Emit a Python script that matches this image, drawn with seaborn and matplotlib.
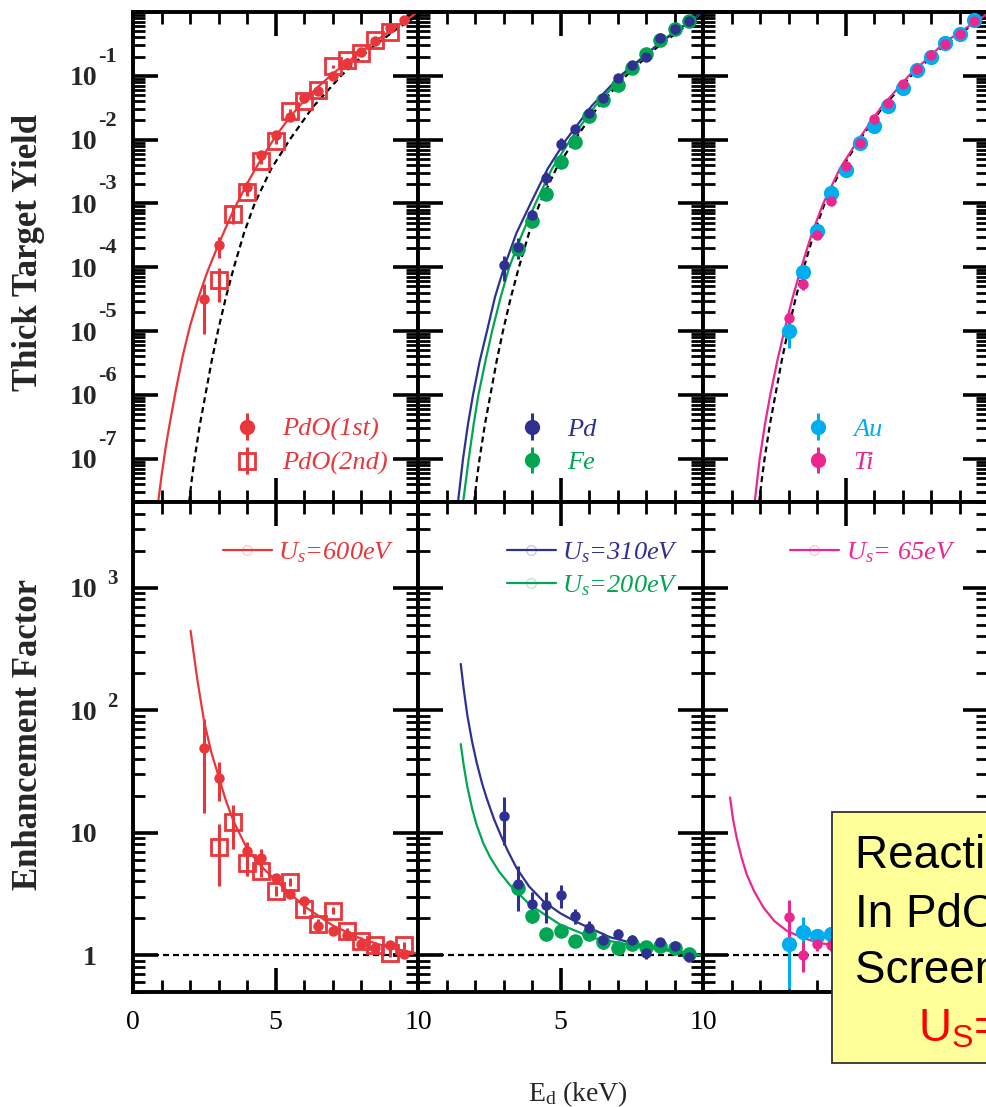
import numpy as np
import matplotlib
matplotlib.use("Agg")
import matplotlib.pyplot as plt
import matplotlib.transforms as mtransforms
import seaborn as sns
from matplotlib.ticker import LogLocator, MultipleLocator, FixedLocator, NullFormatter
from matplotlib.lines import Line2D
from matplotlib.patches import Rectangle
from matplotlib.legend_handler import HandlerErrorbar
from matplotlib.container import ErrorbarContainer
from matplotlib.font_manager import FontProperties

# ---------------- data ----------------
# PdO (1st run)  - filled circles
E_pdo1 = [2.5, 3.0, 4.0, 4.5, 5.0, 5.5, 6.0, 6.5, 7.0, 7.5, 8.0, 8.5, 9.0, 9.5]
Y_pdo1 = [3.2e-5, 2.2e-4, 1.8e-3, 5.8e-3, 1.2e-2, 2.3e-2, 4.5e-2, 5.8e-2, 0.10, 0.16, 0.24, 0.35, 0.56, 0.74]
Yerr_pdo1 = [2.3e-5, 8.0e-5, 3.0e-4, 6.0e-4, 1.0e-3, 1.5e-3, 2.5e-3, 3.0e-3, 4.0e-3, 6.0e-3, 8.0e-3, 1.0e-2, 1.5e-2, 2.0e-2]
F_pdo1 = [49.5, 27.9, 7.1, 6.15, 4.3, 3.18, 2.77, 1.73, 1.58, 1.47, 1.24, 1.14, 1.21, 1.02]
Ferr_pdo1 = [35.0, 9.7, 1.3, 1.2, 0.3, 0.2, 0.15, 0.12, 0.1, 0.1, 0.08, 0.07, 0.08, 0.06]

# PdO (2nd run) - open squares
E_pdo2_y = [3.0, 3.5, 4.0, 4.5, 5.0, 5.5, 6.0, 6.5, 7.0, 7.5, 8.0, 8.5, 9.0]
Y_pdo2 = [6.3e-5, 6.9e-4, 1.5e-3, 4.7e-3, 9.4e-3, 2.8e-2, 4.0e-2, 6.0e-2, 0.14, 0.18, 0.23, 0.37, 0.49]
Yerr_pdo2 = [3.4e-5, 2.2e-4, 2.0e-4, 5.0e-4, 8.0e-4, 2.0e-3, 3.0e-3, 4.0e-3, 8.0e-3, 1.0e-2, 1.0e-2, 1.5e-2, 2.0e-2]
E_pdo2_f = [3.0, 3.5, 4.0, 4.5, 5.0, 5.5, 6.0, 6.5, 7.0, 7.5, 8.0, 8.5, 9.0, 9.5]
F_pdo2 = [7.66, 12.1, 5.6, 4.88, 3.35, 3.99, 2.37, 1.81, 2.3, 1.56, 1.31, 1.21, 1.05, 1.21]
Ferr_pdo2 = [4.0, 4.8, 1.2, 0.5, 0.3, 0.3, 0.2, 0.15, 0.15, 0.1, 0.1, 0.08, 0.08, 0.08]

# Pd
E_pd = [3.0, 3.5, 4.0, 4.5, 5.0, 5.5, 6.0, 6.5, 7.0, 7.5, 8.0, 8.5, 9.0, 9.5]
Y_pd = [1.07e-4, 2.1e-4, 6.6e-4, 2.5e-3, 8.7e-3, 1.46e-2, 2.66e-2, 4.47e-2, 9.2e-2, 0.149, 0.20, 0.385, 0.55, 0.71]
Yerr_pd = [4.5e-5, 7.7e-5, 1.2e-4, 5.7e-4, 1.8e-3, 1.5e-3, 2.0e-3, 3.0e-3, 5.0e-3, 8.0e-3, 1.0e-2, 1.5e-2, 2.0e-2, 2.0e-2]
F_pd = [13.7, 3.84, 2.6, 2.56, 3.1, 2.09, 1.66, 1.32, 1.5, 1.32, 1.05, 1.27, 1.19, 0.97]
Ferr_pd = [5.8, 1.55, 0.65, 0.72, 0.66, 0.3, 0.25, 0.2, 0.12, 0.15, 0.12, 0.12, 0.08, 0.06]

# Fe
E_fe = [3.5, 4.0, 4.5, 5.0, 5.5, 6.0, 6.5, 7.0, 7.5, 8.0, 8.5, 9.0, 9.5]
Y_fe = [1.9e-4, 5.4e-4, 1.43e-3, 4.5e-3, 9.3e-3, 2.34e-2, 4.25e-2, 7.1e-2, 0.135, 0.218, 0.36, 0.54, 0.73]
Yerr_fe = [2e-5, 5e-5, 1.2e-4, 3e-4, 6e-4, 1.5e-3, 2.5e-3, 4e-3, 7e-3, 1e-2, 1.5e-2, 2e-2, 2.5e-2]
F_fe = [3.56, 2.09, 1.5, 1.58, 1.31, 1.5, 1.27, 1.14, 1.23, 1.16, 1.19, 1.14, 1.03]
Ferr_fe = [0.3, 0.25, 0.15, 0.12, 0.1, 0.1, 0.08, 0.06, 0.06, 0.05, 0.05, 0.05, 0.05]

# Au
E_au = [3.0, 3.5, 4.0, 4.5, 5.0, 5.5, 6.0, 6.5, 7.0, 7.5, 8.0, 8.5, 9.0, 9.5]
Y_au = [1.0e-5, 8.3e-5, 3.7e-4, 1.48e-3, 3.4e-3, 9.0e-3, 1.65e-2, 3.4e-2, 6.4e-2, 0.123, 0.195, 0.325, 0.46, 0.75]
Yerr_au = [4.5e-6, 1.2e-5, 3e-5, 1e-4, 2e-4, 5e-4, 8e-4, 1.5e-3, 3e-3, 5e-3, 8e-3, 1e-2, 1.5e-2, 2e-2]
E_au_f = [3.0, 3.5, 4.0, 4.5]
F_au = [1.24, 1.53, 1.44, 1.5]
Ferr_au = [0.71, 0.5, 0.2, 0.2]

# Ti
E_ti = [3.0, 3.5, 4.0, 4.5, 5.0, 5.5, 6.0, 6.5, 7.0, 7.5, 8.0, 8.5, 9.0, 9.5]
Y_ti = [1.58e-5, 5.4e-5, 3.2e-4, 1.1e-3, 3.9e-3, 9.0e-3, 2.1e-2, 3.7e-2, 7.4e-2, 0.127, 0.214, 0.32, 0.46, 0.71]
Yerr_ti = [4e-6, 1e-5, 3e-5, 8e-5, 2e-4, 5e-4, 1e-3, 1.5e-3, 3e-3, 5e-3, 8e-3, 1e-2, 1.5e-2, 2e-2]
E_ti_f = [3.0, 3.5, 4.0, 4.5]
F_ti = [2.03, 1.0, 1.24, 1.21]
Ferr_ti = [0.77, 0.27, 0.15, 0.12]

# curves: bare yield (dashed) and screened fits (thick target yield)
E_bare = [1.97, 2.065, 2.16, 2.35, 2.54, 2.76, 2.98, 3.26, 3.54, 3.9, 4.27, 4.85, 5.5, 6.3, 7.3, 8.3, 9.25, 10.0]
Y_bare = [2.1e-8, 4.8e-8, 1e-7, 3.5e-7, 1e-6, 3.4e-6, 1e-5, 3.4e-5, 1e-4, 3.5e-4, 1e-3, 3.5e-3,
          1e-2, 3.2e-2, 0.1, 0.26, 0.54, 0.89]

E_fit600 = [0.88, 1.0, 1.15, 1.3, 1.5, 1.75, 2.0, 2.3, 2.6, 3.0, 3.5, 4.0, 4.5, 5.0, 5.5, 6.0, 6.5, 7.0, 8.0, 9.0, 10.0]
Y_fit600 = [2.04e-8, 5.37e-8, 1.55e-7, 3.8e-7, 1.17e-6, 4.17e-6, 1.2e-5, 3.39e-5, 8.3e-5, 2.29e-4, 7.4e-4,
            2.04e-3, 5.0e-3, 1.12e-2, 2.24e-2, 4.07e-2, 6.76e-2, 0.107, 0.24, 0.50, 1.0]
E_fit310 = [1.40, 1.58, 1.75, 1.93, 2.16, 2.42, 2.7, 3.02, 3.45, 3.95, 4.55, 5.2, 6.1, 7.1, 8.5, 10.0]
Y_fit310 = [2.04e-8, 1e-7, 3.4e-7, 1e-6, 3.3e-6, 1e-5, 3.4e-5, 1e-4, 3.4e-4, 1e-3, 3.5e-3, 1e-2,
            3.4e-2, 0.1, 0.33, 1.0]
E_fit200 = [1.58, 1.78, 1.95, 2.12, 2.36, 2.6, 2.9, 3.2, 3.65, 4.12, 4.7, 5.35, 6.2, 7.2, 8.5, 10.0]
Y_fit200 = [2.04e-8, 1e-7, 3.4e-7, 1e-6, 3.3e-6, 1e-5, 3.4e-5, 1e-4, 3.3e-4, 1e-3, 3.5e-3, 1e-2,
            3.3e-2, 0.1, 0.34, 1.0]
E_fit65 = [1.81, 1.99, 2.17, 2.36, 2.6, 2.85, 3.14, 3.45, 3.82, 4.22, 4.8, 5.45, 6.25, 7.22, 8.5, 10.0]
Y_fit65 = [2.04e-8, 1e-7, 3.4e-7, 1e-6, 3.3e-6, 1e-5, 3.3e-5, 1e-4, 3.4e-4, 1e-3, 3.5e-3, 1e-2,
           3.2e-2, 0.1, 0.34, 0.95]

# enhancement-factor curves
Ef_600 = [2.02, 2.25, 2.49, 2.75, 3.0, 3.25, 3.52, 4.0, 4.5, 5.02, 5.5, 6.02, 7.0, 8.0, 9.0, 10.0]
F_600 = [444, 182, 82, 45, 29, 18.5, 12.5, 7.4, 5.3, 4.05, 3.2, 2.5, 1.75, 1.36, 1.15, 1.03]
Ef_310 = [1.5, 1.6, 1.73, 1.9, 2.06, 2.25, 2.41, 2.65, 2.88, 3.15, 3.46, 3.9, 4.4, 5.0, 5.57, 6.74, 7.9, 10.0]
F_310 = [238, 151, 91, 55, 37.2, 25.1, 19.1, 13.2, 9.8, 7.1, 5.13, 3.63, 2.75, 2.19, 1.86, 1.40, 1.19, 0.99]
Ef_200 = [1.5, 1.6, 1.73, 1.9, 2.06, 2.3, 2.53, 2.85, 3.23, 3.93, 4.98, 6.15, 7.9, 10.0]
F_200 = [52.8, 35.9, 23.7, 15.7, 11.5, 8.1, 6.3, 4.79, 3.72, 2.57, 1.78, 1.38, 1.16, 0.99]
Ef_65 = [0.95, 1.05, 1.18, 1.35, 1.53, 1.8, 2.12, 2.5, 2.94, 3.45, 3.99, 4.6]
F_65 = [19.4, 13, 9.1, 6.3, 4.58, 3.3, 2.45, 1.9, 1.58, 1.4, 1.27, 1.2]

top_labels = ["PdO(1st)", "PdO(2nd)", "Pd", "Fe", "Au", "Ti"]
us_labels = [r"$U_s$=600eV", r"$U_s$=310eV", r"$U_s$=200eV", r"$U_s$= 65eV"]
xtick_labels = ["0", "5", "10"]
yield_exps = [-1, -2, -3, -4, -5, -6, -7]
ef_vals = [1, 10, 100, 1000]
ef_base = ["1", "10", "10", "10"]
ef_exps = ["", "", "2", "3"]
box_lines = ["Reaction Rate", "In PdO Target", "Screening Energy"]
box_us = r"U$_{\mathsf{S}}$=600eV"

# ---------------- style ----------------
RED = "#E8363B"
BLUE = "#2E3192"
GREEN = "#00A651"
CYAN = "#00AEEF"
MAG = "#EC268F"

sns.set_theme(style="ticks")
plt.rcParams.update({
    "font.family": ["Liberation Serif", "DejaVu Serif"],
    "mathtext.fontset": "custom",
    "mathtext.rm": "Liberation Serif",
    "mathtext.it": "Liberation Serif:italic",
    "mathtext.bf": "Liberation Serif:bold",
    "mathtext.sf": "Liberation Sans",
    "axes.linewidth": 2.8,
    "axes.edgecolor": "black",
    "axes.facecolor": "white",
    "xtick.color": "black",
    "ytick.color": "black",
})

W, H = 986, 1107
fig = plt.figure(figsize=(W / 100, H / 100), dpi=100)
fig.patch.set_facecolor("white")

cols = [(133, 418), (418, 703), (703, 988)]
rows = [(12, 502), (502, 992)]


def make_ax(c, r):
    l, rr = cols[c]
    t, b = rows[r]
    return fig.add_axes([l / W, 1 - b / H, (rr - l) / W, (b - t) / H])


class FixedErr(HandlerErrorbar):
    def __init__(self, ms, **kw):
        super().__init__(**kw)
        self._ms = ms

    def create_artists(self, legend, orig_handle, xdescent, ydescent, width, height, fontsize, trans):
        arts = super().create_artists(legend, orig_handle, xdescent, ydescent, width, height, fontsize, trans)
        for a in arts:
            if isinstance(a, Line2D) and a.get_marker() in ("o", "s"):
                a.set_markersize(self._ms)
        return arts


leg_font = FontProperties(family="Liberation Serif", style="italic", size=19)
DASH = (0, (2.7, 1.8))

axes = [[make_ax(c, r) for c in range(3)] for r in range(2)]
for r in range(2):
    for c in range(3):
        ax = axes[r][c]
        ax.set_yscale("log")
        ax.set_xlim(0, 10)
        if r == 0:
            ax.set_ylim(2.1e-8, 1.0)
        else:
            ax.set_ylim(0.5, 5000)
        ax.xaxis.set_major_locator(FixedLocator([0, 5, 10]))
        ax.xaxis.set_minor_locator(MultipleLocator(1))
        ax.yaxis.set_major_locator(LogLocator(base=10, numticks=30))
        ax.yaxis.set_minor_locator(LogLocator(base=10, subs=np.arange(2, 10), numticks=30))
        ax.yaxis.set_major_formatter(NullFormatter())
        ax.yaxis.set_minor_formatter(NullFormatter())
        ax.tick_params(which="both", direction="in", top=True, right=True, bottom=True, left=True)
        ax.tick_params(which="major", length=17, width=2.6)
        ax.tick_params(which="minor", length=8.5, width=2.0)
        ax.tick_params(axis="y", which="major", length=18)
        for s in ax.spines.values():
            s.set_linewidth(2.8)
        if r == 1 and c < 2:
            labs = xtick_labels if c == 0 else [""] + xtick_labels[1:]
            ax.set_xticks([0, 5, 10])
            ax.set_xticklabels(labs, fontsize=20)
            ax.tick_params(axis="x", pad=13)
        else:
            ax.tick_params(axis="x", labelbottom=False)

# y tick labels: "10" with a raised exponent, drawn as text at the tick values
BASE_X = (97 - 133) / 285
ta = axes[0][0]
ttrans = mtransforms.blended_transform_factory(ta.transAxes, ta.transData)
for e in yield_exps:
    v = 10.0 ** e
    ta.text(BASE_X, v, "10", transform=ttrans, ha="right", va="center_baseline",
            fontsize=20, fontweight="bold", clip_on=False)
    ta.text((98 - 133) / 285, v, "%d" % e,
            transform=mtransforms.offset_copy(ttrans, fig=fig, y=15.5, units="points"),
            ha="left", va="center_baseline", fontsize=16, fontweight="bold", clip_on=False)

ba = axes[1][0]
btrans = mtransforms.blended_transform_factory(ba.transAxes, ba.transData)
for v, base, ex in zip(ef_vals, ef_base, ef_exps):
    ba.text(BASE_X, v, base, transform=btrans, ha="right", va="center_baseline",
            fontsize=20, fontweight="bold", clip_on=False)
    if ex:
        ba.text((107 - 133) / 285, v, ex,
                transform=mtransforms.offset_copy(btrans, fig=fig, y=8.0, units="points"),
                ha="left", va="center_baseline", fontsize=15, fontweight="bold", clip_on=False)


def eb(ax, x, y, e, color, marker="o", ms=7, hollow=False, z=3):
    kw = dict(fmt=marker, ms=ms, color=color, ecolor=color, elinewidth=2.2, capsize=0, zorder=z)
    if hollow:
        kw.update(mfc="none", mec=color, mew=2.0)
    else:
        kw.update(mec=color, mew=0)
    return ax.errorbar(x, y, yerr=e, **kw)


def curve(ax, x, y, color, ls="-", lw=1.6, z=2):
    sns.lineplot(x=x, y=y, ax=ax, color=color, linewidth=lw, linestyle=ls,
                 estimator=None, sort=False, zorder=z, legend=False)


# ---- top row ----
a = axes[0][0]
curve(a, E_bare, Y_bare, "black", ls=DASH)
curve(a, E_fit600, Y_fit600, RED)
h1 = eb(a, E_pdo1, Y_pdo1, Yerr_pdo1, RED, "o", 7.5)
h2 = eb(a, E_pdo2_y, Y_pdo2, Yerr_pdo2, RED, "s", 11.5, hollow=True)

b = axes[0][1]
curve(b, E_bare, Y_bare, "black", ls=DASH)
curve(b, E_fit200, Y_fit200, GREEN)
curve(b, E_fit310, Y_fit310, BLUE)
h4 = eb(b, E_fe, Y_fe, Yerr_fe, GREEN, "o", 10.5)
h3 = eb(b, E_pd, Y_pd, Yerr_pd, BLUE, "o", 7.5)

cax = axes[0][2]
curve(cax, E_bare, Y_bare, "black", ls=DASH)
curve(cax, E_fit65, Y_fit65, MAG)
h5 = eb(cax, E_au, Y_au, Yerr_au, CYAN, "o", 11)
h6 = eb(cax, E_ti, Y_ti, Yerr_ti, MAG, "o", 7.5)

top_leg = [(a, [h1, h2], top_labels[0:2], [RED, RED], 0.353),
           (b, [h3, h4], top_labels[2:4], [BLUE, GREEN], 0.352),
           (cax, [h5, h6], top_labels[4:6], [CYAN, MAG], 0.357)]
for ax, hs, ls_, cs, xa in top_leg:
    ax.legend(hs, ls_, loc="upper left", bbox_to_anchor=(xa, 0.1727), frameon=False,
              prop=leg_font, labelcolor=cs, handlelength=1.0, handletextpad=0.85,
              labelspacing=0.38, borderpad=0, borderaxespad=0,
              handler_map={ErrorbarContainer: FixedErr(11)})

# ---- bottom row ----
for ax in axes[1]:
    ax.axhline(1.0, color="black", linestyle=DASH, linewidth=1.6, zorder=1)

a = axes[1][0]
curve(a, Ef_600, F_600, RED)
eb(a, E_pdo1, F_pdo1, Ferr_pdo1, RED, "o", 7.5)
eb(a, E_pdo2_f, F_pdo2, Ferr_pdo2, RED, "s", 11.5, hollow=True)

b = axes[1][1]
curve(b, Ef_310, F_310, BLUE)
curve(b, Ef_200, F_200, GREEN)
eb(b, E_fe, F_fe, Ferr_fe, GREEN, "o", 10.5)
eb(b, E_pd, F_pd, Ferr_pd, BLUE, "o", 7.5)

cax = axes[1][2]
curve(cax, Ef_65, F_65, MAG)
eb(cax, E_au_f, F_au, Ferr_au, CYAN, "o", 11)
eb(cax, E_ti_f, F_ti, Ferr_ti, MAG, "o", 7.5)


def us_handle(color):
    rgb = matplotlib.colors.to_rgb(color)
    return Line2D([], [], color=color, lw=1.6, marker="o", ms=7, mfc="none",
                  mec=(*rgb, 0.3), mew=0.8)


bot_leg = [(axes[1][0], [us_handle(RED)], us_labels[0:1], [RED], 0.315),
           (axes[1][1], [us_handle(BLUE), us_handle(GREEN)], us_labels[1:3], [BLUE, GREEN], 0.311),
           (axes[1][2], [us_handle(MAG)], us_labels[3:4], [MAG], 0.305)]
for ax, hs, ls_, cs, xa in bot_leg:
    ax.legend(hs, ls_, loc="upper left", bbox_to_anchor=(xa, 0.921), frameon=False,
              prop=leg_font, labelcolor=cs, handlelength=1.86, handletextpad=0.25,
              labelspacing=0.30, borderpad=0, borderaxespad=0)

# ---- axis titles ----
fig.text(29 / W, 1 - 253 / H, "Thick Target Yield", rotation=90, ha="center", va="center",
         fontsize=25, fontweight="bold")
fig.text(29 / W, 1 - 735 / H, "Enhancement Factor", rotation=90, ha="center", va="center",
         fontsize=25, fontweight="bold")
fig.text(578 / W, 1 - 1094 / H, r"E$_{\mathrm{d}}$ (keV)", ha="center", va="center", fontsize=20)

# ---- yellow annotation box ----
fig.add_artist(Rectangle((831.7 / W, 1 - 1063 / H), 0.3, (1063 - 811.7) / H,
                         transform=fig.transFigure, facecolor="#FFFF99",
                         edgecolor="#333333", linewidth=1.3, zorder=20))
for txt, base in zip(box_lines, [868, 926.7, 983.3]):
    fig.text(855 / W, 1 - base / H, txt, fontsize=33, family="Liberation Sans",
             color="black", ha="left", va="baseline", zorder=21)
fig.text(918 / W, 1 - 1041.7 / H, box_us, fontsize=33, family="Liberation Sans",
         color="red", ha="left", va="baseline", zorder=21)

fig.savefig("out.png", dpi=100)
